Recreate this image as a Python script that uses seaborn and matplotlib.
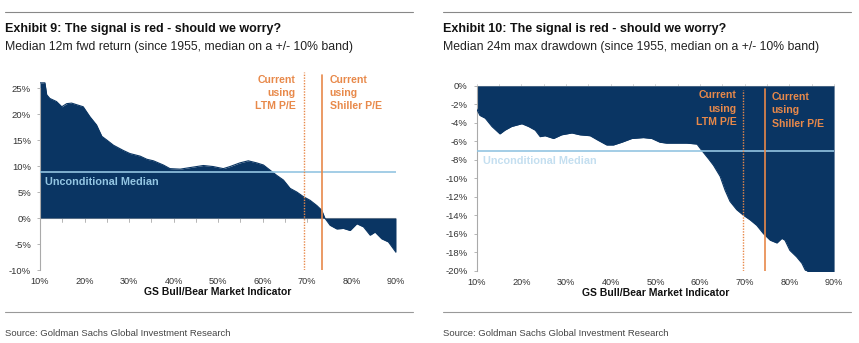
import matplotlib
matplotlib.use("Agg")
import matplotlib.pyplot as plt
import seaborn as sns
import numpy as np
import pandas as pd
from matplotlib.ticker import FuncFormatter, MultipleLocator
from matplotlib.lines import Line2D

sns.set_theme(style="white")
plt.rcParams['font.family'] = ['Liberation Sans', 'DejaVu Sans']

# ---------------- data ----------------
ret_x = [10, 11.1, 11.5, 12.2, 13.7, 14.9, 16, 17.1, 18.2, 19.7, 21.2, 22.7, 23.9, 25,
         26.5, 28.7, 30.2, 32.5, 34, 35.5, 37.7, 39.2, 41.5, 43.7, 46.7, 48.9, 51.2,
         52.7, 54.9, 56.8, 58.7, 60.2, 61.7, 63.2, 64.7, 66.2, 67.7, 69.2, 70.7, 72.2,
         73.3, 74, 75.2, 76.7, 78.2, 79.7, 81.2, 82.7, 84.2, 85.3, 86.8, 88.3, 90]
ret_y = [26, 26, 23.7, 23, 22.4, 21.4, 22, 22.1, 21.8, 21.4, 19.5, 17.9, 15.7, 15,
         14, 13, 12.4, 11.9, 11.3, 11, 10.2, 9.5, 9.4, 9.7, 10.1, 9.9, 9.5,
         9.9, 10.6, 11, 10.6, 10.2, 9.2, 8.2, 7.3, 5.7, 5, 4.1, 3.4, 2.4,
         1.5, 0, -1.4, -2.1, -2, -2.4, -1.1, -1.7, -3.3, -2.7, -4, -4.6, -6.6]
ret_median = 8.9
ret_ltm = 69.4
ret_shiller = 73.3

dd_x = [10, 10.7, 11.9, 13.4, 15.2, 16.3, 17.8, 20.1, 21.6, 23.1, 24.2, 25.3, 27.2, 29,
        31.3, 33.1, 35.4, 37.2, 39.1, 40.6, 42.5, 44.7, 47.3, 49.2, 51, 52.5, 54.8, 57,
        59.3, 60.4, 61.9, 63, 64.5, 65.6, 66.7, 68.2, 69.7, 71.2, 72.7, 74.2, 75.7,
        77.2, 78.3, 79, 80.1, 81.6, 82.8, 83.5, 85, 87.5, 90]
dd_y = [-2.5, -3.2, -3.5, -4.4, -5.2, -4.8, -4.4, -4.1, -4.4, -4.8, -5.5, -5.4, -5.7, -5.3,
        -5.1, -5.3, -5.4, -5.9, -6.4, -6.4, -6.1, -5.7, -5.6, -5.7, -6.1, -6.2, -6.2, -6.2,
        -6.3, -7, -7.9, -8.6, -9.8, -11.3, -12.5, -13.4, -14, -14.5, -15.1, -16, -16.7,
        -17, -16.5, -16.7, -17.8, -18.5, -19.2, -19.9, -20.5, -21.5, -22.5]
dd_median = -7.0
dd_ltm = 69.6
dd_shiller = 74.6

titles = ["Exhibit 9: The signal is red - should we worry?",
          "Exhibit 10: The signal is red - should we worry?"]
subtitles = ["Median 12m fwd return (since 1955, median on a +/- 10% band)",
             "Median 24m max drawdown (since 1955, median on a +/- 10% band)"]
xlabel = "GS Bull/Bear Market Indicator"
source = "Source: Goldman Sachs Global Investment Research"
median_label = "Unconditional Median"
ltm_label = "Current\nusing\nLTM P/E"
shiller_label = "Current\nusing\nShiller P/E"

NAVY = '#0a3563'
ORANGE = '#e8894a'
LBLUE = '#93c5e2'
AXC = '#aaaaaa'
TXT = '#333333'

fig = plt.figure(figsize=(8.59, 3.43), dpi=100)

pct = FuncFormatter(lambda v, p: f"{v:.0f}%")

def style_axes(ax):
    ax.set_xlim(10, 90)
    ax.xaxis.set_major_locator(MultipleLocator(10))
    ax.xaxis.set_major_formatter(pct)
    ax.yaxis.set_major_formatter(pct)
    ax.tick_params(axis='x', labelsize=6.6, colors=TXT, length=0, pad=5)
    ax.tick_params(axis='y', labelsize=6.8, labelcolor=TXT, color=AXC, length=2.5,
                   width=0.6, left=True, pad=4)
    for s in ['top', 'right', 'bottom']:
        ax.spines[s].set_visible(False)
    ax.spines['left'].set_color(AXC)
    ax.spines['left'].set_linewidth(0.8)
    ax.set_xlabel(xlabel, fontsize=7.5, fontweight='bold', color='#111111', labelpad=1)
    ax.set_ylabel('')
    ax.grid(False)

# ---------- left panel ----------
ax1 = fig.add_axes([0.0466, 0.2128, 0.4144, 0.576])
df1 = pd.DataFrame({'x': ret_x, 'y': ret_y})
ax1.fill_between(df1['x'], 0, df1['y'], color=NAVY, lw=0, zorder=2)
sns.lineplot(data=df1, x='x', y='y', ax=ax1, color=NAVY, lw=0.8, zorder=3)
ax1.set_ylim(-10, 28)
ax1.set_yticks(np.arange(-10, 26, 5))
style_axes(ax1)
ax1.spines['left'].set_bounds(-10, 25)
ax1.axhline(0, color=AXC, lw=0.8, zorder=1)
for xv in np.arange(10, 91, 5):
    ax1.plot([xv, xv], [0, -0.7], color=AXC, lw=0.6, zorder=1)
ax1.axhline(ret_median, color=LBLUE, lw=1.2, zorder=4)
ax1.text(11.2, 7.0, median_label, color=LBLUE, fontsize=7.8, fontweight='bold',
         va='center', ha='left', zorder=5)
ax1.plot([ret_ltm, ret_ltm], [-10, 28], color=ORANGE, lw=1.0, ls=(0, (1, 1)), zorder=4)
ax1.plot([ret_shiller, ret_shiller], [-10, 27.5], color=ORANGE, lw=1.2, zorder=4)
ax1.text(ret_ltm - 1.9, 27.6, ltm_label, color=ORANGE, fontsize=7.6, fontweight='bold',
         ha='right', va='top', linespacing=1.4, multialignment='right', zorder=5)
ax1.text(ret_shiller + 1.8, 27.6, shiller_label, color=ORANGE, fontsize=7.6, fontweight='bold',
         ha='left', va='top', linespacing=1.4, zorder=5)

# ---------- right panel ----------
ax2 = fig.add_axes([0.555, 0.2108, 0.416, 0.539])
df2 = pd.DataFrame({'x': dd_x, 'y': dd_y})
ax2.fill_between(df2['x'], 0, df2['y'], color=NAVY, lw=0, zorder=2)
sns.lineplot(data=df2, x='x', y='y', ax=ax2, color=NAVY, lw=0.8, zorder=3)
ax2.set_ylim(-20, 0)
ax2.set_yticks(np.arange(-20, 1, 2))
style_axes(ax2)
ax2.axhline(0, color='#cccccc', lw=0.8, zorder=1, clip_on=False)
for xv in np.arange(10, 91, 5):
    ax2.plot([xv, xv], [0, 0.25], color='#cccccc', lw=0.6, zorder=1, clip_on=False)
ax2.axhline(dd_median, color=LBLUE, lw=1.2, zorder=4)
ax2.text(11.5, -8.1, median_label, color='#c4dff0', fontsize=7.8, fontweight='bold',
         va='center', ha='left', zorder=5)
ax2.plot([dd_ltm, dd_ltm], [-20, -0.4], color=ORANGE, lw=1.0, ls=(0, (1, 1)), zorder=4)
ax2.plot([dd_shiller, dd_shiller], [-20, -0.3], color=ORANGE, lw=1.2, zorder=4)
ax2.text(dd_ltm - 1.5, -0.5, ltm_label, color=ORANGE, fontsize=7.6, fontweight='bold',
         ha='right', va='top', linespacing=1.4, multialignment='right', zorder=5)
ax2.text(dd_shiller + 1.4, -0.7, shiller_label, color=ORANGE, fontsize=7.6, fontweight='bold',
         ha='left', va='top', linespacing=1.4, zorder=5)

# ---------- headers / footers ----------
def hline(x0, x1, ypx, color='#888888', lw=0.8):
    fig.add_artist(Line2D([x0 / 859, x1 / 859], [1 - ypx / 343, 1 - ypx / 343],
                          color=color, lw=lw, transform=fig.transFigure))

for x0, x1, t, st in [(5, 413, titles[0], subtitles[0]), (443, 851, titles[1], subtitles[1])]:
    hline(x0, x1, 12)
    hline(x0, x1, 312, color='#999999')
    fig.text(x0 / 859, 1 - 29 / 343, t, fontsize=9, fontweight='bold',
             color='#111111', va='center', ha='left')
    fig.text(x0 / 859, 1 - 47 / 343, st, fontsize=8.8,
             color='#222222', va='center', ha='left')
    fig.text(x0 / 859, 1 - 333 / 343, source, fontsize=6.8,
             color='#444444', va='center', ha='left')

fig.savefig("out.png", dpi=100, facecolor='white')
